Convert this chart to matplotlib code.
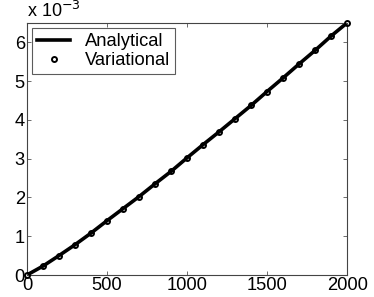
import matplotlib
matplotlib.use("Agg")
import matplotlib.pyplot as plt
from matplotlib.ticker import FuncFormatter

plt.rcParams["font.family"] = ["Liberation Sans", "DejaVu Sans"]

# data (y in absolute units, shown with x 10^-3 multiplier)
x_vals = [0, 100, 200, 300, 400, 500, 600, 700, 800, 900, 1000,
          1100, 1200, 1300, 1400, 1500, 1600, 1700, 1800, 1900, 2000]
y_analytical = [0.0, 0.23e-3, 0.50e-3, 0.78e-3, 1.08e-3, 1.40e-3, 1.71e-3,
                2.02e-3, 2.35e-3, 2.67e-3, 3.02e-3, 3.36e-3, 3.69e-3,
                4.03e-3, 4.37e-3, 4.73e-3, 5.08e-3, 5.44e-3, 5.79e-3,
                6.16e-3, 6.50e-3]
y_variational = list(y_analytical)

x_ticks = [0, 500, 1000, 1500, 2000]
y_ticks = [0, 1e-3, 2e-3, 3e-3, 4e-3, 5e-3, 6e-3]

fig = plt.figure(figsize=(3.74, 2.97), dpi=100)
ax = fig.add_axes([0.072, 0.074, 0.856, 0.849])

ax.plot(x_vals, y_analytical, color="black", lw=2.6, label="Analytical")
ax.plot(x_vals, y_variational, ls="none", marker="o", ms=3.6, mfc="none",
        mec="black", mew=1.4, label="Variational", clip_on=False, zorder=3)

ax.set_xlim(0, 2000)
ax.set_ylim(0, 6.5e-3)
ax.set_xticks(x_ticks)
ax.set_yticks(y_ticks)
ax.yaxis.set_major_formatter(FuncFormatter(lambda v, p: f"{v * 1e3:g}"))
ax.tick_params(direction="in", length=3, width=0.6, color="#555555",
               top=True, right=True, labelsize=13.2, pad=1.5)
for s in ax.spines.values():
    s.set_color("#444444")
    s.set_linewidth(0.8)

fig.text(0.072, 0.928, r"x 10$^{-3}$", fontsize=13, ha="left", va="bottom")

leg = ax.legend(loc="upper left", fontsize=13.2, handlelength=1.8,
                borderaxespad=0.3, fancybox=False, edgecolor="#333333",
                borderpad=0.25, labelspacing=0.12, handletextpad=0.8)
leg.get_frame().set_linewidth(0.8)

fig.savefig("out.png", dpi=100)
